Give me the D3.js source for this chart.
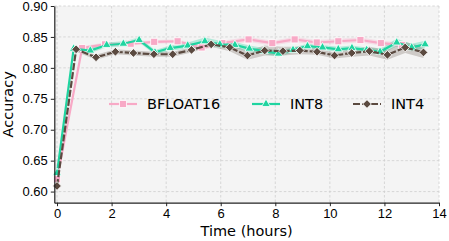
<!DOCTYPE html>
<html>
<head>
<meta charset="utf-8">
<script src="https://cdn.jsdelivr.net/npm/d3@7"></script>
<style>
  body { margin: 0; background: #fff; }
  svg { display: block; font-family: "DejaVu Sans", sans-serif; }
  .grid line { stroke: #cfcfcf; stroke-width: 0.8; stroke-dasharray: 2.5,2; }
  .axis text { font-size: 13px; fill: #000; }
  .axis path, .axis line { stroke: #222; }
</style>
</head>
<body>
<svg id="chart" width="449" height="241"></svg>
<script>

// values
var seriesNames = ["BFLOAT16", "INT8", "INT4"];

var bf16Hours = [0, 0.92, 1.76, 2.70, 3.56, 4.42, 5.30, 6.06, 7.02, 7.89, 8.71, 9.52, 10.31, 11.12, 11.87, 12.64];
var bf16Acc   = [0.620, 0.832, 0.838, 0.839, 0.842, 0.843, 0.833, 0.840, 0.846, 0.840, 0.846, 0.841, 0.843, 0.845, 0.840, 0.837];
var bf16Err   = [0.003, 0.003, 0.003, 0.003, 0.003, 0.003, 0.004, 0.004, 0.004, 0.004, 0.004, 0.004, 0.004, 0.004, 0.004, 0.004];

var int8Hours = [0, 0.61, 1.22, 1.82, 2.43, 3.01, 3.59, 4.15, 4.79, 5.42, 5.97, 6.52, 7.05, 7.58, 8.12, 8.65, 9.18, 9.73, 10.31, 10.81, 11.35, 11.84, 12.45, 13.00, 13.49];
var int8Acc   = [0.630, 0.831, 0.828, 0.837, 0.839, 0.845, 0.825, 0.832, 0.836, 0.843, 0.838, 0.837, 0.831, 0.827, 0.823, 0.829, 0.835, 0.833, 0.830, 0.832, 0.829, 0.826, 0.841, 0.833, 0.838];
var int8Err   = [0.004, 0.003, 0.004, 0.004, 0.004, 0.004, 0.004, 0.004, 0.005, 0.006, 0.006, 0.005, 0.005, 0.005, 0.005, 0.004, 0.004, 0.004, 0.004, 0.004, 0.004, 0.005, 0.006, 0.006, 0.006];

var int4Hours = [0, 0.70, 1.43, 2.14, 2.80, 3.55, 4.24, 4.93, 5.65, 6.33, 6.98, 7.61, 8.28, 8.90, 9.53, 10.17, 10.80, 11.45, 12.11, 12.76, 13.43];
var int4Acc   = [0.609, 0.830, 0.817, 0.826, 0.824, 0.822, 0.822, 0.829, 0.838, 0.833, 0.820, 0.828, 0.827, 0.828, 0.826, 0.820, 0.824, 0.827, 0.821, 0.833, 0.825];
var int4Err   = [0.004, 0.004, 0.004, 0.004, 0.004, 0.004, 0.004, 0.004, 0.004, 0.006, 0.007, 0.008, 0.007, 0.006, 0.005, 0.005, 0.006, 0.007, 0.008, 0.009, 0.009];

var xTicks = [0, 2, 4, 6, 8, 10, 12, 14];
var yTicks = [0.60, 0.65, 0.70, 0.75, 0.80, 0.85, 0.90];

var colors = ["#f8a9c6", "#1fd4a0", "#5b4a40"];

drawChart();

function drawChart() {

    var svg = d3.select("#chart"),
        margin = {top: 6, right: 10, bottom: 38.3, left: 54.3},
        width = +svg.attr("width") - margin.left - margin.right,
        height = +svg.attr("height") - margin.top - margin.bottom,
        g = svg.append("g").attr("transform", "translate(" + margin.left + "," + margin.top + ")");

    var x = d3.scaleLinear().domain([-0.1, 14]).range([0, width]);
    var y = d3.scaleLinear().domain([0.582, 0.90]).range([height, 0]);

    var series = [
        {name: seriesNames[0], hours: bf16Hours, acc: bf16Acc, err: bf16Err, shape: "square", dash: null},
        {name: seriesNames[1], hours: int8Hours, acc: int8Acc, err: int8Err, shape: "triangle", dash: null},
        {name: seriesNames[2], hours: int4Hours, acc: int4Acc, err: int4Err, shape: "diamond", dash: "7,2"}
    ];
    series.forEach(function (s, i) {
        s.color = colors[i];
        s.points = s.hours.map(function (h, j) {
            return {h: h, v: s.acc[j], e: s.err[j]};
        });
    });

    g.append("rect")
        .attr("width", width)
        .attr("height", height)
        .attr("fill", "#f4f4f4");

    // grid
    g.append("g")
        .attr("class", "grid")
        .selectAll("line")
        .data(xTicks)
        .enter().append("line")
        .attr("x1", function (d) { return x(d); })
        .attr("x2", function (d) { return x(d); })
        .attr("y1", 0)
        .attr("y2", height);

    g.append("g")
        .attr("class", "grid")
        .selectAll("line")
        .data(yTicks)
        .enter().append("line")
        .attr("x1", 0)
        .attr("x2", width)
        .attr("y1", function (d) { return y(d); })
        .attr("y2", function (d) { return y(d); });

    var area = d3.area()
        .x(function (d) { return x(d.h); })
        .y0(function (d) { return y(d.v - d.e); })
        .y1(function (d) { return y(d.v + d.e); });

    var line = d3.line()
        .x(function (d) { return x(d.h); })
        .y(function (d) { return y(d.v); });

    series.forEach(function (s) {
        g.append("path")
            .datum(s.points)
            .attr("fill", s.color)
            .attr("fill-opacity", s.name === "INT4" ? 0.25 : 0.3)
            .attr("d", area);
    });

    series.forEach(function (s) {
        g.append("path")
            .datum(s.points)
            .attr("fill", "none")
            .attr("stroke", s.color)
            .attr("stroke-width", 2.2)
            .attr("stroke-dasharray", s.dash)
            .attr("d", line);

        g.selectAll(".m-" + s.shape)
            .data(s.points)
            .enter().append("path")
            .attr("class", "m-" + s.shape)
            .attr("d", marker(s.shape))
            .attr("transform", function (d) {
                return "translate(" + x(d.h) + "," + y(d.v) + ")" + (s.shape === "diamond" ? " rotate(45)" : "");
            })
            .attr("fill", s.color)
            .attr("stroke", "#fff")
            .attr("stroke-width", 0.8);
    });

    // axes
    g.append("g")
        .attr("class", "axis axis--x")
        .attr("transform", "translate(0," + height + ")")
        .call(d3.axisBottom(x).tickValues(xTicks).tickSize(3.5).tickSizeOuter(0).tickPadding(3))
        .call(function (a) { a.select(".domain").attr("stroke-width", 1.2); });

    g.append("g")
        .attr("class", "axis axis--y")
        .call(d3.axisLeft(y).tickValues(yTicks).tickFormat(d3.format(".2f")).tickSize(3.5).tickSizeOuter(0).tickPadding(3))
        .call(function (a) { a.select(".domain").attr("stroke-width", 1.2); });

    svg.append("text")
        .attr("x", margin.left + width / 2)
        .attr("y", 236)
        .attr("text-anchor", "middle")
        .style("font-size", "14.5px")
        .text("Time (hours)");

    svg.append("text")
        .attr("transform", "translate(13," + (margin.top + height / 2) + ") rotate(-90)")
        .attr("text-anchor", "middle")
        .style("font-size", "14.5px")
        .text("Accuracy");

    // legend
    var legendX = [109, 252, 353];
    var legend = svg.selectAll(".legend")
        .data(series)
        .enter().append("g")
        .attr("class", "legend")
        .attr("transform", function (d, i) { return "translate(" + legendX[i] + ",104)"; });

    legend.append("line")
        .attr("x1", 0)
        .attr("x2", 28)
        .attr("stroke", function (d) { return d.color; })
        .attr("stroke-width", 2.2)
        .attr("stroke-dasharray", function (d) { return d.dash; });

    legend.append("path")
        .attr("d", function (d) { return marker(d.shape)(); })
        .attr("transform", function (d) { return "translate(14,0)" + (d.shape === "diamond" ? " rotate(45)" : ""); })
        .attr("fill", function (d) { return d.color; })
        .attr("stroke", "#fff")
        .attr("stroke-width", 0.8);

    legend.append("text")
        .attr("x", 38)
        .attr("dy", "0.36em")
        .style("font-size", "14.5px")
        .text(function (d) { return d.name; });
}

function marker(shape) {
    if (shape === "square") return d3.symbol().type(d3.symbolSquare).size(50);
    if (shape === "triangle") return d3.symbol().type(d3.symbolTriangle).size(32);
    return d3.symbol().type(d3.symbolSquare).size(38);
}
</script>
</body>
</html>
